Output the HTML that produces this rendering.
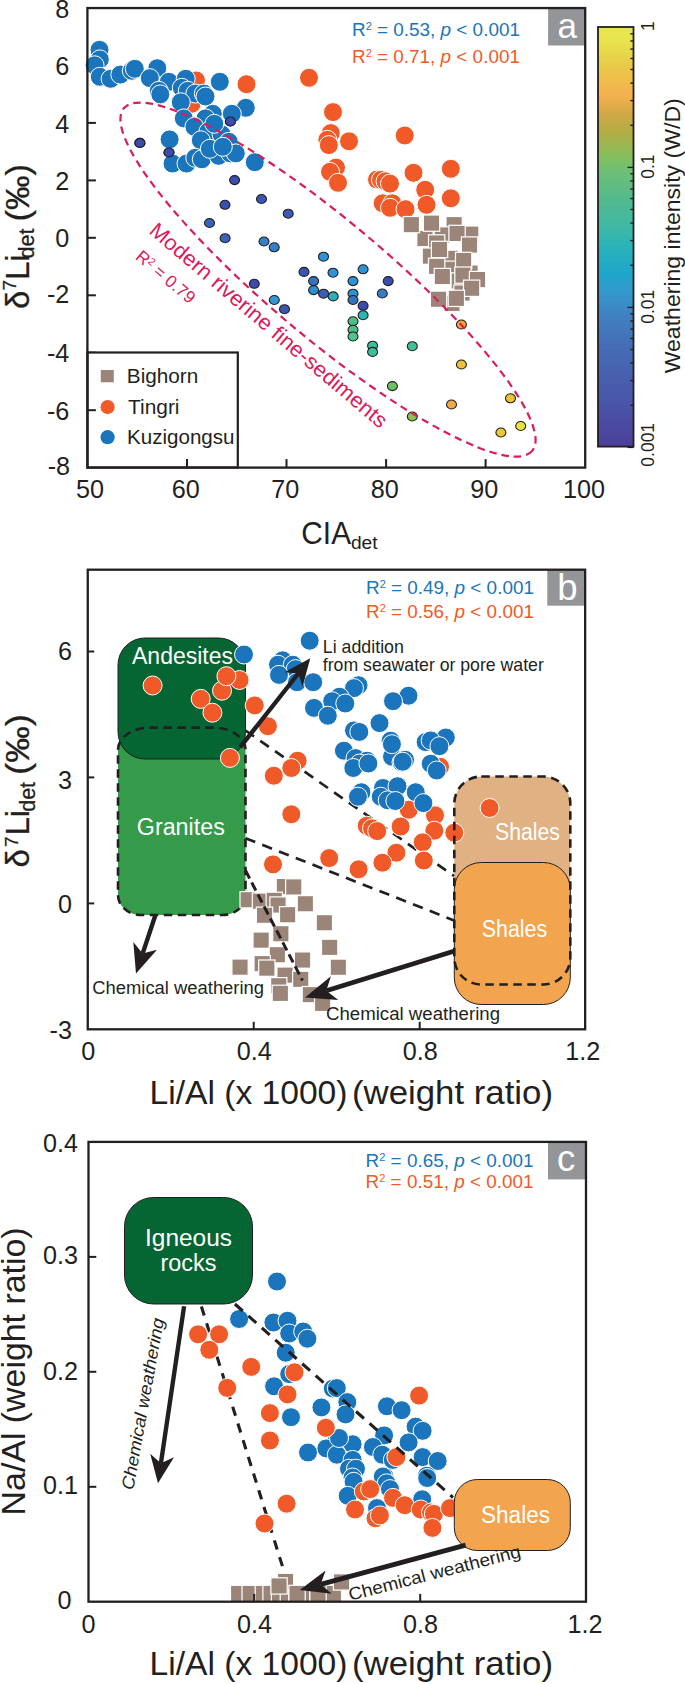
<!DOCTYPE html>
<html><head><meta charset="utf-8"><title>Figure</title>
<style>html,body{margin:0;padding:0;background:#fff}svg{display:block}</style></head>
<body>
<svg width="685" height="1684" viewBox="0 0 685 1684" font-family="Liberation Sans, Arial, sans-serif">
<rect width="685" height="1684" fill="#fff"/>
<defs>
<linearGradient id="cb" x1="0" y1="0" x2="0" y2="1">
<stop offset="0" stop-color="#e9e750"/><stop offset="0.03" stop-color="#e8e44e"/>
<stop offset="0.08" stop-color="#e5cf48"/><stop offset="0.126" stop-color="#f0bd4b"/>
<stop offset="0.165" stop-color="#f5b04f"/><stop offset="0.21" stop-color="#cfa844"/>
<stop offset="0.255" stop-color="#afae45"/><stop offset="0.307" stop-color="#86bf5c"/>
<stop offset="0.342" stop-color="#6fbf74"/><stop offset="0.41" stop-color="#52ba8e"/>
<stop offset="0.48" stop-color="#3fb8a6"/><stop offset="0.52" stop-color="#2bb3b8"/>
<stop offset="0.588" stop-color="#1fa6cb"/><stop offset="0.63" stop-color="#3399cc"/>
<stop offset="0.69" stop-color="#4080c0"/><stop offset="0.76" stop-color="#456db5"/>
<stop offset="0.83" stop-color="#4860ae"/><stop offset="0.90" stop-color="#4a55a8"/>
<stop offset="1" stop-color="#4b3f99"/>
</linearGradient>
<clipPath id="clipc"><rect x="87" y="1141" width="499" height="460.5"/></clipPath>
</defs>
<g id="panelA">
<line x1="87.4" x2="95.9" y1="410.2" y2="410.2" stroke="#231f20" stroke-width="2"/>
<line x1="87.4" x2="95.9" y1="352.7" y2="352.7" stroke="#231f20" stroke-width="2"/>
<line x1="87.4" x2="95.9" y1="295.3" y2="295.3" stroke="#231f20" stroke-width="2"/>
<line x1="87.4" x2="95.9" y1="237.8" y2="237.8" stroke="#231f20" stroke-width="2"/>
<line x1="87.4" x2="95.9" y1="180.4" y2="180.4" stroke="#231f20" stroke-width="2"/>
<line x1="87.4" x2="95.9" y1="122.9" y2="122.9" stroke="#231f20" stroke-width="2"/>
<line x1="87.4" x2="95.9" y1="65.5" y2="65.5" stroke="#231f20" stroke-width="2"/>
<line x1="187.0" x2="187.0" y1="467.6" y2="459.1" stroke="#231f20" stroke-width="2"/>
<line x1="286.5" x2="286.5" y1="467.6" y2="459.1" stroke="#231f20" stroke-width="2"/>
<line x1="386.1" x2="386.1" y1="467.6" y2="459.1" stroke="#231f20" stroke-width="2"/>
<line x1="485.6" x2="485.6" y1="467.6" y2="459.1" stroke="#231f20" stroke-width="2"/>
<ellipse cx="139.9" cy="142.9" rx="5" ry="4.5" fill="#3b4cae" stroke="#231f20" stroke-width="1.1"/>
<ellipse cx="169.0" cy="152.5" rx="5" ry="4.5" fill="#3b4cae" stroke="#231f20" stroke-width="1.1"/>
<ellipse cx="230.4" cy="121.5" rx="5" ry="4.5" fill="#3b4cae" stroke="#231f20" stroke-width="1.1"/>
<ellipse cx="234.6" cy="180.1" rx="5" ry="4.5" fill="#3b4cae" stroke="#231f20" stroke-width="1.1"/>
<ellipse cx="225.0" cy="204.8" rx="5" ry="4.5" fill="#3a50b0" stroke="#231f20" stroke-width="1.1"/>
<ellipse cx="261.5" cy="199.0" rx="5" ry="4.5" fill="#3a55b2" stroke="#231f20" stroke-width="1.1"/>
<ellipse cx="288.2" cy="213.7" rx="5" ry="4.5" fill="#3a5ab6" stroke="#231f20" stroke-width="1.1"/>
<ellipse cx="209.5" cy="223.0" rx="5" ry="4.5" fill="#3a62ba" stroke="#231f20" stroke-width="1.1"/>
<ellipse cx="225.1" cy="238.2" rx="5" ry="4.5" fill="#3a62ba" stroke="#231f20" stroke-width="1.1"/>
<ellipse cx="264.0" cy="241.5" rx="5" ry="4.5" fill="#3480c8" stroke="#231f20" stroke-width="1.1"/>
<ellipse cx="274.2" cy="247.3" rx="5" ry="4.5" fill="#3480c8" stroke="#231f20" stroke-width="1.1"/>
<ellipse cx="254.3" cy="283.8" rx="5" ry="4.5" fill="#3b4cae" stroke="#231f20" stroke-width="1.1"/>
<ellipse cx="274.3" cy="300.0" rx="5" ry="4.5" fill="#2f97d6" stroke="#231f20" stroke-width="1.1"/>
<ellipse cx="284.5" cy="309.2" rx="5" ry="4.5" fill="#3a55b2" stroke="#231f20" stroke-width="1.1"/>
<ellipse cx="323.5" cy="256.7" rx="5" ry="4.5" fill="#2a94d6" stroke="#231f20" stroke-width="1.1"/>
<ellipse cx="304.0" cy="271.9" rx="5" ry="4.5" fill="#3a57b0" stroke="#231f20" stroke-width="1.1"/>
<ellipse cx="333.0" cy="272.7" rx="5" ry="4.5" fill="#2a94d6" stroke="#231f20" stroke-width="1.1"/>
<ellipse cx="363.1" cy="269.3" rx="5" ry="4.5" fill="#2a94d6" stroke="#231f20" stroke-width="1.1"/>
<ellipse cx="313.6" cy="281.1" rx="5" ry="4.5" fill="#3374c0" stroke="#231f20" stroke-width="1.1"/>
<ellipse cx="353.0" cy="281.1" rx="5" ry="4.5" fill="#2a94d6" stroke="#231f20" stroke-width="1.1"/>
<ellipse cx="388.2" cy="281.1" rx="5" ry="4.5" fill="#3a4cae" stroke="#231f20" stroke-width="1.1"/>
<ellipse cx="313.6" cy="290.1" rx="5" ry="4.5" fill="#2a90d4" stroke="#231f20" stroke-width="1.1"/>
<ellipse cx="323.6" cy="293.7" rx="5" ry="4.5" fill="#3a5db8" stroke="#231f20" stroke-width="1.1"/>
<ellipse cx="333.2" cy="296.4" rx="5" ry="4.5" fill="#2bb0b8" stroke="#231f20" stroke-width="1.1"/>
<ellipse cx="353.0" cy="293.7" rx="5" ry="4.5" fill="#2a94d6" stroke="#231f20" stroke-width="1.1"/>
<ellipse cx="353.0" cy="300.0" rx="5" ry="4.5" fill="#3374c0" stroke="#231f20" stroke-width="1.1"/>
<ellipse cx="382.3" cy="293.5" rx="5" ry="4.5" fill="#3380c8" stroke="#231f20" stroke-width="1.1"/>
<ellipse cx="363.1" cy="305.8" rx="5" ry="4.5" fill="#3a4cae" stroke="#231f20" stroke-width="1.1"/>
<ellipse cx="363.1" cy="315.2" rx="5" ry="4.5" fill="#2bb5b0" stroke="#231f20" stroke-width="1.1"/>
<ellipse cx="353.0" cy="321.3" rx="5" ry="4.5" fill="#4dbd8a" stroke="#231f20" stroke-width="1.1"/>
<ellipse cx="353.0" cy="329.8" rx="5" ry="4.5" fill="#4dbd8a" stroke="#231f20" stroke-width="1.1"/>
<ellipse cx="353.0" cy="336.5" rx="5" ry="4.5" fill="#4ec591" stroke="#231f20" stroke-width="1.1"/>
<ellipse cx="372.6" cy="345.7" rx="5" ry="4.5" fill="#3dbe9d" stroke="#231f20" stroke-width="1.1"/>
<ellipse cx="372.6" cy="351.9" rx="5" ry="4.5" fill="#3dbe9d" stroke="#231f20" stroke-width="1.1"/>
<ellipse cx="412.3" cy="346.2" rx="5" ry="4.5" fill="#3fc097" stroke="#231f20" stroke-width="1.1"/>
<ellipse cx="392.4" cy="386.1" rx="5" ry="4.5" fill="#6dc066" stroke="#231f20" stroke-width="1.1"/>
<ellipse cx="412.3" cy="416.5" rx="5" ry="4.5" fill="#8bc24d" stroke="#231f20" stroke-width="1.1"/>
<ellipse cx="461.4" cy="324.5" rx="5" ry="4.5" fill="#f2a531" stroke="#231f20" stroke-width="1.1"/>
<ellipse cx="461.4" cy="364.5" rx="5" ry="4.5" fill="#f0c136" stroke="#231f20" stroke-width="1.1"/>
<ellipse cx="451.5" cy="404.5" rx="5" ry="4.5" fill="#f3a845" stroke="#231f20" stroke-width="1.1"/>
<ellipse cx="510.5" cy="398.3" rx="5" ry="4.5" fill="#e9c534" stroke="#231f20" stroke-width="1.1"/>
<ellipse cx="520.7" cy="426.0" rx="5" ry="4.5" fill="#e8e43c" stroke="#231f20" stroke-width="1.1"/>
<ellipse cx="500.9" cy="432.5" rx="5" ry="4.5" fill="#e8c834" stroke="#231f20" stroke-width="1.1"/>
<circle cx="196.0" cy="80.4" r="9.5" fill="#f05a28" stroke="#fff" stroke-width="1"/>
<circle cx="246.5" cy="84.2" r="9.5" fill="#f05a28" stroke="#fff" stroke-width="1"/>
<circle cx="191.6" cy="103.8" r="9.5" fill="#f05a28" stroke="#fff" stroke-width="1"/>
<circle cx="309.0" cy="77.8" r="9.5" fill="#f05a28" stroke="#fff" stroke-width="1"/>
<circle cx="333.0" cy="112.1" r="9.5" fill="#f05a28" stroke="#fff" stroke-width="1"/>
<circle cx="330.8" cy="133.1" r="9.5" fill="#f05a28" stroke="#fff" stroke-width="1"/>
<circle cx="327.3" cy="139.8" r="9.5" fill="#f05a28" stroke="#fff" stroke-width="1"/>
<circle cx="328.8" cy="145.1" r="9.5" fill="#f05a28" stroke="#fff" stroke-width="1"/>
<circle cx="349.0" cy="141.3" r="9.5" fill="#f05a28" stroke="#fff" stroke-width="1"/>
<circle cx="336.0" cy="167.6" r="9.5" fill="#f05a28" stroke="#fff" stroke-width="1"/>
<circle cx="330.0" cy="171.8" r="9.5" fill="#f05a28" stroke="#fff" stroke-width="1"/>
<circle cx="338.0" cy="182.8" r="9.5" fill="#f05a28" stroke="#fff" stroke-width="1"/>
<circle cx="404.7" cy="135.5" r="9.5" fill="#f05a28" stroke="#fff" stroke-width="1"/>
<circle cx="413.5" cy="172.8" r="9.5" fill="#f05a28" stroke="#fff" stroke-width="1"/>
<circle cx="450.8" cy="168.8" r="9.5" fill="#f05a28" stroke="#fff" stroke-width="1"/>
<circle cx="377.0" cy="179.6" r="9.5" fill="#f05a28" stroke="#fff" stroke-width="1"/>
<circle cx="381.0" cy="179.8" r="9.5" fill="#f05a28" stroke="#fff" stroke-width="1"/>
<circle cx="385.5" cy="181.3" r="9.5" fill="#f05a28" stroke="#fff" stroke-width="1"/>
<circle cx="390.0" cy="183.6" r="9.5" fill="#f05a28" stroke="#fff" stroke-width="1"/>
<circle cx="425.2" cy="189.8" r="9.5" fill="#f05a28" stroke="#fff" stroke-width="1"/>
<circle cx="450.8" cy="198.3" r="9.5" fill="#f05a28" stroke="#fff" stroke-width="1"/>
<circle cx="426.5" cy="204.8" r="9.5" fill="#f05a28" stroke="#fff" stroke-width="1"/>
<circle cx="382.7" cy="203.3" r="9.5" fill="#f05a28" stroke="#fff" stroke-width="1"/>
<circle cx="392.3" cy="203.3" r="9.5" fill="#f05a28" stroke="#fff" stroke-width="1"/>
<circle cx="390.0" cy="207.8" r="9.5" fill="#f05a28" stroke="#fff" stroke-width="1"/>
<circle cx="405.5" cy="209.2" r="9.5" fill="#f05a28" stroke="#fff" stroke-width="1"/>
<rect x="446.0" y="216.5" width="16.3" height="16.3" fill="#9b8579" stroke="#fff" stroke-width="1.2"/>
<rect x="462.6" y="226.0" width="16.3" height="16.3" fill="#9b8579" stroke="#fff" stroke-width="1.2"/>
<rect x="416.8" y="230.4" width="16.3" height="16.3" fill="#9b8579" stroke="#fff" stroke-width="1.2"/>
<rect x="434.2" y="226.8" width="16.3" height="16.3" fill="#9b8579" stroke="#fff" stroke-width="1.2"/>
<rect x="428.5" y="234.8" width="16.3" height="16.3" fill="#9b8579" stroke="#fff" stroke-width="1.2"/>
<rect x="422.2" y="248.0" width="16.3" height="16.3" fill="#9b8579" stroke="#fff" stroke-width="1.2"/>
<rect x="442.4" y="250.2" width="16.3" height="16.3" fill="#9b8579" stroke="#fff" stroke-width="1.2"/>
<rect x="440.2" y="261.1" width="16.3" height="16.3" fill="#9b8579" stroke="#fff" stroke-width="1.2"/>
<rect x="451.1" y="272.8" width="16.3" height="16.3" fill="#9b8579" stroke="#fff" stroke-width="1.2"/>
<rect x="461.9" y="264.9" width="16.3" height="16.3" fill="#9b8579" stroke="#fff" stroke-width="1.2"/>
<rect x="443.8" y="295.4" width="16.3" height="16.3" fill="#9b8579" stroke="#fff" stroke-width="1.2"/>
<rect x="453.9" y="284.9" width="16.3" height="16.3" fill="#9b8579" stroke="#fff" stroke-width="1.2"/>
<rect x="403.2" y="216.5" width="16.3" height="16.3" fill="#9b8579" stroke="#fff" stroke-width="1.2"/>
<rect x="423.4" y="215.0" width="16.3" height="16.3" fill="#9b8579" stroke="#fff" stroke-width="1.2"/>
<rect x="448.9" y="225.3" width="16.3" height="16.3" fill="#9b8579" stroke="#fff" stroke-width="1.2"/>
<rect x="461.4" y="236.9" width="16.3" height="16.3" fill="#9b8579" stroke="#fff" stroke-width="1.2"/>
<rect x="431.4" y="241.3" width="16.3" height="16.3" fill="#9b8579" stroke="#fff" stroke-width="1.2"/>
<rect x="455.5" y="252.3" width="16.3" height="16.3" fill="#9b8579" stroke="#fff" stroke-width="1.2"/>
<rect x="428.5" y="258.2" width="16.3" height="16.3" fill="#9b8579" stroke="#fff" stroke-width="1.2"/>
<rect x="434.2" y="268.4" width="16.3" height="16.3" fill="#9b8579" stroke="#fff" stroke-width="1.2"/>
<rect x="454.8" y="267.0" width="16.3" height="16.3" fill="#9b8579" stroke="#fff" stroke-width="1.2"/>
<rect x="469.4" y="271.4" width="16.3" height="16.3" fill="#9b8579" stroke="#fff" stroke-width="1.2"/>
<rect x="463.5" y="280.1" width="16.3" height="16.3" fill="#9b8579" stroke="#fff" stroke-width="1.2"/>
<rect x="430.4" y="291.1" width="16.3" height="16.3" fill="#9b8579" stroke="#fff" stroke-width="1.2"/>
<rect x="448.2" y="290.2" width="16.3" height="16.3" fill="#9b8579" stroke="#fff" stroke-width="1.2"/>
<circle cx="99.5" cy="49.8" r="9.5" fill="#1b75bc" stroke="#fff" stroke-width="1"/>
<circle cx="99.8" cy="59.4" r="9.5" fill="#1b75bc" stroke="#fff" stroke-width="1"/>
<circle cx="94.6" cy="65.3" r="9.5" fill="#1b75bc" stroke="#fff" stroke-width="1"/>
<circle cx="99.8" cy="76.8" r="9.5" fill="#1b75bc" stroke="#fff" stroke-width="1"/>
<circle cx="110.6" cy="78.8" r="9.5" fill="#1b75bc" stroke="#fff" stroke-width="1"/>
<circle cx="120.3" cy="74.6" r="9.5" fill="#1b75bc" stroke="#fff" stroke-width="1"/>
<circle cx="131.8" cy="70.8" r="9.5" fill="#1b75bc" stroke="#fff" stroke-width="1"/>
<circle cx="134.8" cy="68.8" r="9.5" fill="#1b75bc" stroke="#fff" stroke-width="1"/>
<circle cx="157.3" cy="68.2" r="9.5" fill="#1b75bc" stroke="#fff" stroke-width="1"/>
<circle cx="149.8" cy="78.1" r="9.5" fill="#1b75bc" stroke="#fff" stroke-width="1"/>
<circle cx="168.8" cy="81.8" r="9.5" fill="#1b75bc" stroke="#fff" stroke-width="1"/>
<circle cx="158.8" cy="90.8" r="9.5" fill="#1b75bc" stroke="#fff" stroke-width="1"/>
<circle cx="160.3" cy="94.4" r="9.5" fill="#1b75bc" stroke="#fff" stroke-width="1"/>
<circle cx="185.7" cy="78.8" r="9.5" fill="#1b75bc" stroke="#fff" stroke-width="1"/>
<circle cx="181.8" cy="87.8" r="9.5" fill="#1b75bc" stroke="#fff" stroke-width="1"/>
<circle cx="187.8" cy="90.8" r="9.5" fill="#1b75bc" stroke="#fff" stroke-width="1"/>
<circle cx="195.3" cy="93.6" r="9.5" fill="#1b75bc" stroke="#fff" stroke-width="1"/>
<circle cx="203.8" cy="93.6" r="9.5" fill="#1b75bc" stroke="#fff" stroke-width="1"/>
<circle cx="205.5" cy="96.5" r="9.5" fill="#1b75bc" stroke="#fff" stroke-width="1"/>
<circle cx="180.8" cy="102.3" r="9.5" fill="#1b75bc" stroke="#fff" stroke-width="1"/>
<circle cx="219.8" cy="81.8" r="9.5" fill="#1b75bc" stroke="#fff" stroke-width="1"/>
<circle cx="245.8" cy="107.8" r="9.5" fill="#1b75bc" stroke="#fff" stroke-width="1"/>
<circle cx="231.8" cy="113.8" r="9.5" fill="#1b75bc" stroke="#fff" stroke-width="1"/>
<circle cx="212.8" cy="113.8" r="9.5" fill="#1b75bc" stroke="#fff" stroke-width="1"/>
<circle cx="205.5" cy="118.4" r="9.5" fill="#1b75bc" stroke="#fff" stroke-width="1"/>
<circle cx="183.8" cy="118.4" r="9.5" fill="#1b75bc" stroke="#fff" stroke-width="1"/>
<circle cx="194.4" cy="126.8" r="9.5" fill="#1b75bc" stroke="#fff" stroke-width="1"/>
<circle cx="208.4" cy="131.5" r="9.5" fill="#1b75bc" stroke="#fff" stroke-width="1"/>
<circle cx="221.6" cy="134.4" r="9.5" fill="#1b75bc" stroke="#fff" stroke-width="1"/>
<circle cx="228.8" cy="141.8" r="9.5" fill="#1b75bc" stroke="#fff" stroke-width="1"/>
<circle cx="200.8" cy="140.3" r="9.5" fill="#1b75bc" stroke="#fff" stroke-width="1"/>
<circle cx="214.3" cy="123.8" r="9.5" fill="#1b75bc" stroke="#fff" stroke-width="1"/>
<circle cx="169.6" cy="139.4" r="9.5" fill="#1b75bc" stroke="#fff" stroke-width="1"/>
<circle cx="172.5" cy="163.6" r="9.5" fill="#1b75bc" stroke="#fff" stroke-width="1"/>
<circle cx="186.5" cy="163.6" r="9.5" fill="#1b75bc" stroke="#fff" stroke-width="1"/>
<circle cx="195.3" cy="157.8" r="9.5" fill="#1b75bc" stroke="#fff" stroke-width="1"/>
<circle cx="201.8" cy="159.3" r="9.5" fill="#1b75bc" stroke="#fff" stroke-width="1"/>
<circle cx="218.6" cy="155.8" r="9.5" fill="#1b75bc" stroke="#fff" stroke-width="1"/>
<circle cx="230.3" cy="153.4" r="9.5" fill="#1b75bc" stroke="#fff" stroke-width="1"/>
<circle cx="235.8" cy="153.4" r="9.5" fill="#1b75bc" stroke="#fff" stroke-width="1"/>
<circle cx="254.8" cy="162.2" r="9.5" fill="#1b75bc" stroke="#fff" stroke-width="1"/>
<circle cx="209.8" cy="148.8" r="9.5" fill="#1b75bc" stroke="#fff" stroke-width="1"/>
<circle cx="222.8" cy="146.8" r="9.5" fill="#1b75bc" stroke="#fff" stroke-width="1"/>
<ellipse cx="328" cy="279.6" rx="266.5" ry="58.5" transform="rotate(40 328 279.6)" fill="none" stroke="#d91c5c" stroke-width="2.2" stroke-dasharray="7.5 5"/>
<ellipse cx="139.9" cy="142.9" rx="5" ry="4.5" fill="#3b4cae" stroke="#231f20" stroke-width="1.1"/>
<ellipse cx="169.0" cy="152.5" rx="5" ry="4.5" fill="#3b4cae" stroke="#231f20" stroke-width="1.1"/>
<ellipse cx="230.4" cy="121.5" rx="5" ry="4.5" fill="#3b4cae" stroke="#231f20" stroke-width="1.1"/>
<text transform="translate(148,232.5) rotate(40.3)" font-size="21.5" fill="#d91c5c" textLength="304" lengthAdjust="spacingAndGlyphs">Modern riverine fine-sediments</text>
<text transform="translate(134.6,258.2) rotate(40.3)" font-size="17.3" fill="#d91c5c">R<tspan font-size="10.5" dy="-5">2</tspan><tspan dy="5"> = 0.79</tspan></text>
<text x="352" y="36" font-size="18.9" fill="#1b75bc">R<tspan font-size="11" dy="-6">2</tspan><tspan dy="6"> = 0.53, </tspan><tspan font-style="italic">p</tspan> &lt; 0.001</text>
<text x="352" y="63.1" font-size="18.9" fill="#f05a28">R<tspan font-size="11" dy="-6">2</tspan><tspan dy="6"> = 0.71, </tspan><tspan font-style="italic">p</tspan> &lt; 0.001</text>
<rect x="87.5" y="352.5" width="150.3" height="115" fill="#fff" stroke="#231f20" stroke-width="2.2"/>
<rect x="100.8" y="370" width="13" height="12.3" fill="#9b8579"/>
<circle cx="107.6" cy="407" r="7.1" fill="#f05a28"/><circle cx="107.6" cy="437.2" r="7.1" fill="#1b75bc"/><line x1="87.4" x2="95.9" y1="410.2" y2="410.2" stroke="#231f20" stroke-width="2"/><line x1="187" x2="187" y1="467.6" y2="459.1" stroke="#231f20" stroke-width="2"/>
<text x="126.8" y="382.6" font-size="19.8" fill="#231f20" text-anchor="start" textLength="71.5" lengthAdjust="spacingAndGlyphs" >Bighorn</text>
<text x="128" y="414" font-size="19.8" fill="#231f20" text-anchor="start" textLength="51.5" lengthAdjust="spacingAndGlyphs" >Tingri</text>
<text x="127" y="444.3" font-size="19.8" fill="#231f20" text-anchor="start" textLength="107.5" lengthAdjust="spacingAndGlyphs" >Kuzigongsu</text>
<rect x="548.1" y="8" width="37" height="37.5" fill="#939598"/>
<rect x="87.4" y="8.05" width="497.80000000000007" height="459.55" fill="none" stroke="#231f20" stroke-width="2.3"/>
<text x="70.1" y="474.9" font-size="25.2" fill="#231f20" text-anchor="end" >-8</text>
<text x="69.3" y="419.8" font-size="25.2" fill="#231f20" text-anchor="end" >-6</text>
<text x="69.3" y="362.3" font-size="25.2" fill="#231f20" text-anchor="end" >-4</text>
<text x="69.3" y="302.5" font-size="25.2" fill="#231f20" text-anchor="end" >-2</text>
<text x="69.3" y="247.4" font-size="25.2" fill="#231f20" text-anchor="end" >0</text>
<text x="69.3" y="190.0" font-size="25.2" fill="#231f20" text-anchor="end" >2</text>
<text x="69.3" y="132.5" font-size="25.2" fill="#231f20" text-anchor="end" >4</text>
<text x="69.3" y="75.1" font-size="25.2" fill="#231f20" text-anchor="end" >6</text>
<text x="69.3" y="17.7" font-size="25.2" fill="#231f20" text-anchor="end" >8</text>
<text x="89.9" y="498.3" font-size="25.2" fill="#231f20" text-anchor="middle" >50</text>
<text x="185.7" y="498.3" font-size="25.2" fill="#231f20" text-anchor="middle" >60</text>
<text x="285.2" y="498.3" font-size="25.2" fill="#231f20" text-anchor="middle" >70</text>
<text x="384.8" y="498.3" font-size="25.2" fill="#231f20" text-anchor="middle" >80</text>
<text x="484.3" y="498.3" font-size="25.2" fill="#231f20" text-anchor="middle" >90</text>
<text x="583.9" y="498.3" font-size="25.2" fill="#231f20" text-anchor="middle" >100</text>
<text x="567.3" y="38.4" font-size="35" fill="#fff" text-anchor="middle" >a</text>
<text x="301.3" y="544" font-size="31.5" fill="#231f20" text-anchor="start" textLength="49.8" lengthAdjust="spacingAndGlyphs" >CIA</text>
<text x="350.9" y="548.5" font-size="19.2" fill="#231f20" text-anchor="start" >det</text>
<text transform="translate(28.8,309) rotate(-90)" font-size="33" fill="#231f20" stroke="#231f20" stroke-width="0.3">δ</text><text transform="translate(16,290.5) rotate(-90)" font-size="19" fill="#231f20" stroke="#231f20" stroke-width="0.3">7</text><text transform="translate(28.8,280) rotate(-90)" font-size="33" fill="#231f20" stroke="#231f20" stroke-width="0.3">Li</text><text transform="translate(34.2,258.5) rotate(-90)" font-size="21.5" fill="#231f20" stroke="#231f20" stroke-width="0.3">det</text><text transform="translate(28.8,221.6) rotate(-90)" font-size="33" fill="#231f20" stroke="#231f20" stroke-width="0.3" textLength="57.5" lengthAdjust="spacingAndGlyphs">(‰)</text>
<rect x="598" y="27" width="35.5" height="419.6" fill="url(#cb)" stroke="#231f20" stroke-width="1.8"/>
<line x1="627.5" x2="633.5" y1="167.4" y2="167.4" stroke="#231f20" stroke-width="1.4"/>
<line x1="630.3" x2="633.5" y1="125.3" y2="125.3" stroke="#231f20" stroke-width="1.4"/>
<line x1="630.3" x2="633.5" y1="100.6" y2="100.6" stroke="#231f20" stroke-width="1.4"/>
<line x1="630.3" x2="633.5" y1="83.1" y2="83.1" stroke="#231f20" stroke-width="1.4"/>
<line x1="630.3" x2="633.5" y1="69.5" y2="69.5" stroke="#231f20" stroke-width="1.4"/>
<line x1="630.3" x2="633.5" y1="58.5" y2="58.5" stroke="#231f20" stroke-width="1.4"/>
<line x1="630.3" x2="633.5" y1="49.1" y2="49.1" stroke="#231f20" stroke-width="1.4"/>
<line x1="630.3" x2="633.5" y1="41.0" y2="41.0" stroke="#231f20" stroke-width="1.4"/>
<line x1="630.3" x2="633.5" y1="33.8" y2="33.8" stroke="#231f20" stroke-width="1.4"/>
<line x1="627.5" x2="633.5" y1="307.4" y2="307.4" stroke="#231f20" stroke-width="1.4"/>
<line x1="630.3" x2="633.5" y1="265.3" y2="265.3" stroke="#231f20" stroke-width="1.4"/>
<line x1="630.3" x2="633.5" y1="240.6" y2="240.6" stroke="#231f20" stroke-width="1.4"/>
<line x1="630.3" x2="633.5" y1="223.1" y2="223.1" stroke="#231f20" stroke-width="1.4"/>
<line x1="630.3" x2="633.5" y1="209.5" y2="209.5" stroke="#231f20" stroke-width="1.4"/>
<line x1="630.3" x2="633.5" y1="198.5" y2="198.5" stroke="#231f20" stroke-width="1.4"/>
<line x1="630.3" x2="633.5" y1="189.1" y2="189.1" stroke="#231f20" stroke-width="1.4"/>
<line x1="630.3" x2="633.5" y1="181.0" y2="181.0" stroke="#231f20" stroke-width="1.4"/>
<line x1="630.3" x2="633.5" y1="173.8" y2="173.8" stroke="#231f20" stroke-width="1.4"/>
<line x1="627.5" x2="633.5" y1="447.4" y2="447.4" stroke="#231f20" stroke-width="1.4"/>
<line x1="630.3" x2="633.5" y1="405.3" y2="405.3" stroke="#231f20" stroke-width="1.4"/>
<line x1="630.3" x2="633.5" y1="380.6" y2="380.6" stroke="#231f20" stroke-width="1.4"/>
<line x1="630.3" x2="633.5" y1="363.1" y2="363.1" stroke="#231f20" stroke-width="1.4"/>
<line x1="630.3" x2="633.5" y1="349.5" y2="349.5" stroke="#231f20" stroke-width="1.4"/>
<line x1="630.3" x2="633.5" y1="338.5" y2="338.5" stroke="#231f20" stroke-width="1.4"/>
<line x1="630.3" x2="633.5" y1="329.1" y2="329.1" stroke="#231f20" stroke-width="1.4"/>
<line x1="630.3" x2="633.5" y1="321.0" y2="321.0" stroke="#231f20" stroke-width="1.4"/>
<line x1="630.3" x2="633.5" y1="313.8" y2="313.8" stroke="#231f20" stroke-width="1.4"/>
<text transform="translate(653.8,26.2) rotate(-90)" font-size="17.5" fill="#231f20" text-anchor="middle">1</text>
<text transform="translate(653.8,166.6) rotate(-90)" font-size="17.5" fill="#231f20" text-anchor="middle">0.1</text>
<text transform="translate(653.8,306.8) rotate(-90)" font-size="17.5" fill="#231f20" text-anchor="middle">0.01</text>
<text transform="translate(653.8,444.8) rotate(-90)" font-size="17.5" fill="#231f20" text-anchor="middle">0.001</text>
<text transform="translate(680.2,373.3) rotate(-90)" font-size="21.8" fill="#231f20" textLength="275" lengthAdjust="spacingAndGlyphs">Weathering intensity (W/D)</text>
</g>
<g id="panelB">
<path d="M118 749.6 A32 22 0 0 1 150 727.6 H213.5 A32 22 0 0 1 245.5 749.6 V895 A23 20 0 0 1 222.5 915 H141 A23 20 0 0 1 118 895 Z" fill="#359a4a"/>
<rect x="118" y="638" width="127.5" height="121" rx="27" fill="#066633" stroke="#231f20" stroke-width="1"/>
<path d="M118 749.6 A32 22 0 0 1 150 727.6 H213.5 A32 22 0 0 1 245.5 749.6 V895 A23 20 0 0 1 222.5 915 H141 A23 20 0 0 1 118 895 Z" fill="none" stroke="#231f20" stroke-width="2.6" stroke-dasharray="8.5 5.5"/>
<rect x="454.3" y="776.5" width="116" height="208" rx="27" fill="#e0b283"/>
<rect x="454.3" y="862.5" width="116" height="142" rx="27" fill="#f2a54e" stroke="#231f20" stroke-width="1"/>
<line x1="245.5" y1="730.5" x2="454.1" y2="876" stroke="#231f20" stroke-width="2.7" stroke-dasharray="10.5 7.5"/>
<line x1="245.5" y1="838.2" x2="454.1" y2="920.4" stroke="#231f20" stroke-width="2.7" stroke-dasharray="10.5 7.5"/>
<rect x="276.2" y="878.4" width="16.3" height="16.3" fill="#9b8579" stroke="#fff" stroke-width="1.2"/>
<rect x="285.6" y="878.8" width="16.3" height="16.3" fill="#9b8579" stroke="#fff" stroke-width="1.2"/>
<rect x="240.0" y="891.6" width="16.3" height="16.3" fill="#9b8579" stroke="#fff" stroke-width="1.2"/>
<rect x="252.3" y="893.0" width="16.3" height="16.3" fill="#9b8579" stroke="#fff" stroke-width="1.2"/>
<rect x="266.1" y="892.2" width="16.3" height="16.3" fill="#9b8579" stroke="#fff" stroke-width="1.2"/>
<rect x="269.9" y="896.9" width="16.3" height="16.3" fill="#9b8579" stroke="#fff" stroke-width="1.2"/>
<rect x="297.2" y="895.6" width="16.3" height="16.3" fill="#9b8579" stroke="#fff" stroke-width="1.2"/>
<rect x="256.4" y="907.1" width="16.3" height="16.3" fill="#9b8579" stroke="#fff" stroke-width="1.2"/>
<rect x="279.5" y="906.6" width="16.3" height="16.3" fill="#9b8579" stroke="#fff" stroke-width="1.2"/>
<rect x="253.0" y="932.0" width="16.3" height="16.3" fill="#9b8579" stroke="#fff" stroke-width="1.2"/>
<rect x="272.7" y="925.6" width="16.3" height="16.3" fill="#9b8579" stroke="#fff" stroke-width="1.2"/>
<rect x="269.2" y="946.6" width="16.3" height="16.3" fill="#9b8579" stroke="#fff" stroke-width="1.2"/>
<rect x="294.4" y="951.9" width="16.3" height="16.3" fill="#9b8579" stroke="#fff" stroke-width="1.2"/>
<rect x="231.9" y="959.0" width="16.3" height="16.3" fill="#9b8579" stroke="#fff" stroke-width="1.2"/>
<rect x="254.0" y="955.5" width="16.3" height="16.3" fill="#9b8579" stroke="#fff" stroke-width="1.2"/>
<rect x="258.7" y="960.0" width="16.3" height="16.3" fill="#9b8579" stroke="#fff" stroke-width="1.2"/>
<rect x="276.9" y="967.0" width="16.3" height="16.3" fill="#9b8579" stroke="#fff" stroke-width="1.2"/>
<rect x="292.6" y="971.2" width="16.3" height="16.3" fill="#9b8579" stroke="#fff" stroke-width="1.2"/>
<rect x="270.6" y="977.6" width="16.3" height="16.3" fill="#9b8579" stroke="#fff" stroke-width="1.2"/>
<rect x="272.2" y="985.2" width="16.3" height="16.3" fill="#9b8579" stroke="#fff" stroke-width="1.2"/>
<rect x="316.2" y="914.6" width="16.3" height="16.3" fill="#9b8579" stroke="#fff" stroke-width="1.2"/>
<rect x="321.5" y="939.2" width="16.3" height="16.3" fill="#9b8579" stroke="#fff" stroke-width="1.2"/>
<rect x="330.2" y="959.1" width="16.3" height="16.3" fill="#9b8579" stroke="#fff" stroke-width="1.2"/>
<rect x="302.2" y="986.5" width="16.3" height="16.3" fill="#9b8579" stroke="#fff" stroke-width="1.2"/>
<rect x="314.5" y="995.2" width="16.3" height="16.3" fill="#9b8579" stroke="#fff" stroke-width="1.2"/>
<line x1="245.5" y1="870.5" x2="302.5" y2="980.5" stroke="#231f20" stroke-width="3" stroke-dasharray="9 4.5"/>
<circle cx="152.6" cy="685.5" r="9.5" fill="#f05a28" stroke="#fff" stroke-width="1"/>
<circle cx="200.7" cy="698.9" r="9.5" fill="#f05a28" stroke="#fff" stroke-width="1"/>
<circle cx="212.4" cy="712.7" r="9.5" fill="#f05a28" stroke="#fff" stroke-width="1"/>
<circle cx="239.6" cy="680.0" r="9.5" fill="#f05a28" stroke="#fff" stroke-width="1"/>
<circle cx="222.0" cy="690.7" r="9.5" fill="#f05a28" stroke="#fff" stroke-width="1"/>
<circle cx="226.4" cy="676.2" r="9.5" fill="#f05a28" stroke="#fff" stroke-width="1"/>
<circle cx="254.7" cy="705.4" r="9.5" fill="#f05a28" stroke="#fff" stroke-width="1"/>
<circle cx="267.9" cy="726.2" r="9.5" fill="#f05a28" stroke="#fff" stroke-width="1"/>
<circle cx="229.9" cy="757.9" r="9.5" fill="#f05a28" stroke="#fff" stroke-width="1"/>
<circle cx="297.6" cy="760.7" r="9.5" fill="#f05a28" stroke="#fff" stroke-width="1"/>
<circle cx="291.3" cy="768.0" r="9.5" fill="#f05a28" stroke="#fff" stroke-width="1"/>
<circle cx="273.8" cy="775.7" r="9.5" fill="#f05a28" stroke="#fff" stroke-width="1"/>
<circle cx="291.3" cy="814.3" r="9.5" fill="#f05a28" stroke="#fff" stroke-width="1"/>
<circle cx="366.7" cy="825.7" r="9.5" fill="#f05a28" stroke="#fff" stroke-width="1"/>
<circle cx="372.0" cy="828.3" r="9.5" fill="#f05a28" stroke="#fff" stroke-width="1"/>
<circle cx="377.2" cy="831.1" r="9.5" fill="#f05a28" stroke="#fff" stroke-width="1"/>
<circle cx="408.7" cy="809.7" r="9.5" fill="#f05a28" stroke="#fff" stroke-width="1"/>
<circle cx="400.6" cy="826.5" r="9.5" fill="#f05a28" stroke="#fff" stroke-width="1"/>
<circle cx="435.0" cy="815.3" r="9.5" fill="#f05a28" stroke="#fff" stroke-width="1"/>
<circle cx="434.3" cy="830.7" r="9.5" fill="#f05a28" stroke="#fff" stroke-width="1"/>
<circle cx="454.3" cy="832.7" r="9.5" fill="#f05a28" stroke="#fff" stroke-width="1"/>
<circle cx="422.7" cy="842.3" r="9.5" fill="#f05a28" stroke="#fff" stroke-width="1"/>
<circle cx="396.4" cy="852.7" r="9.5" fill="#f05a28" stroke="#fff" stroke-width="1"/>
<circle cx="423.8" cy="860.5" r="9.5" fill="#f05a28" stroke="#fff" stroke-width="1"/>
<circle cx="382.4" cy="862.7" r="9.5" fill="#f05a28" stroke="#fff" stroke-width="1"/>
<circle cx="358.6" cy="869.3" r="9.5" fill="#f05a28" stroke="#fff" stroke-width="1"/>
<circle cx="329.2" cy="858.1" r="9.5" fill="#f05a28" stroke="#fff" stroke-width="1"/>
<circle cx="273.0" cy="864.4" r="9.5" fill="#f05a28" stroke="#fff" stroke-width="1"/>
<circle cx="440.0" cy="766.7" r="9.5" fill="#f05a28" stroke="#fff" stroke-width="1"/>
<circle cx="489.6" cy="808.0" r="9.5" fill="#f05a28" stroke="#fff" stroke-width="1"/>
<circle cx="309.7" cy="640.7" r="9.5" fill="#1b75bc" stroke="#fff" stroke-width="1"/>
<circle cx="244.0" cy="654.5" r="9.5" fill="#1b75bc" stroke="#fff" stroke-width="1"/>
<circle cx="282.6" cy="660.3" r="9.5" fill="#1b75bc" stroke="#fff" stroke-width="1"/>
<circle cx="278.0" cy="664.7" r="9.5" fill="#1b75bc" stroke="#fff" stroke-width="1"/>
<circle cx="292.8" cy="664.7" r="9.5" fill="#1b75bc" stroke="#fff" stroke-width="1"/>
<circle cx="295.7" cy="669.1" r="9.5" fill="#1b75bc" stroke="#fff" stroke-width="1"/>
<circle cx="279.0" cy="674.9" r="9.5" fill="#1b75bc" stroke="#fff" stroke-width="1"/>
<circle cx="297.0" cy="682.2" r="9.5" fill="#1b75bc" stroke="#fff" stroke-width="1"/>
<circle cx="313.2" cy="682.2" r="9.5" fill="#1b75bc" stroke="#fff" stroke-width="1"/>
<circle cx="358.5" cy="685.2" r="9.5" fill="#1b75bc" stroke="#fff" stroke-width="1"/>
<circle cx="354.0" cy="688.1" r="9.5" fill="#1b75bc" stroke="#fff" stroke-width="1"/>
<circle cx="339.5" cy="696.7" r="9.5" fill="#1b75bc" stroke="#fff" stroke-width="1"/>
<circle cx="332.2" cy="701.2" r="9.5" fill="#1b75bc" stroke="#fff" stroke-width="1"/>
<circle cx="345.3" cy="703.5" r="9.5" fill="#1b75bc" stroke="#fff" stroke-width="1"/>
<circle cx="314.0" cy="707.9" r="9.5" fill="#1b75bc" stroke="#fff" stroke-width="1"/>
<circle cx="327.8" cy="715.7" r="9.5" fill="#1b75bc" stroke="#fff" stroke-width="1"/>
<circle cx="408.5" cy="695.7" r="9.5" fill="#1b75bc" stroke="#fff" stroke-width="1"/>
<circle cx="393.0" cy="701.2" r="9.5" fill="#1b75bc" stroke="#fff" stroke-width="1"/>
<circle cx="379.5" cy="723.1" r="9.5" fill="#1b75bc" stroke="#fff" stroke-width="1"/>
<circle cx="354.0" cy="730.4" r="9.5" fill="#1b75bc" stroke="#fff" stroke-width="1"/>
<circle cx="359.3" cy="731.9" r="9.5" fill="#1b75bc" stroke="#fff" stroke-width="1"/>
<circle cx="390.6" cy="740.7" r="9.5" fill="#1b75bc" stroke="#fff" stroke-width="1"/>
<circle cx="343.9" cy="750.7" r="9.5" fill="#1b75bc" stroke="#fff" stroke-width="1"/>
<circle cx="355.5" cy="758.1" r="9.5" fill="#1b75bc" stroke="#fff" stroke-width="1"/>
<circle cx="392.0" cy="756.7" r="9.5" fill="#1b75bc" stroke="#fff" stroke-width="1"/>
<circle cx="405.0" cy="759.7" r="9.5" fill="#1b75bc" stroke="#fff" stroke-width="1"/>
<circle cx="425.6" cy="742.1" r="9.5" fill="#1b75bc" stroke="#fff" stroke-width="1"/>
<circle cx="367.0" cy="760.7" r="9.5" fill="#1b75bc" stroke="#fff" stroke-width="1"/>
<circle cx="445.8" cy="737.5" r="9.5" fill="#1b75bc" stroke="#fff" stroke-width="1"/>
<circle cx="430.7" cy="740.4" r="9.5" fill="#1b75bc" stroke="#fff" stroke-width="1"/>
<circle cx="439.4" cy="746.2" r="9.5" fill="#1b75bc" stroke="#fff" stroke-width="1"/>
<circle cx="401.5" cy="762.3" r="9.5" fill="#1b75bc" stroke="#fff" stroke-width="1"/>
<circle cx="430.7" cy="763.7" r="9.5" fill="#1b75bc" stroke="#fff" stroke-width="1"/>
<circle cx="359.6" cy="763.5" r="9.5" fill="#1b75bc" stroke="#fff" stroke-width="1"/>
<circle cx="353.3" cy="768.0" r="9.5" fill="#1b75bc" stroke="#fff" stroke-width="1"/>
<circle cx="368.4" cy="763.5" r="9.5" fill="#1b75bc" stroke="#fff" stroke-width="1"/>
<circle cx="391.9" cy="744.2" r="9.5" fill="#1b75bc" stroke="#fff" stroke-width="1"/>
<circle cx="402.7" cy="761.7" r="9.5" fill="#1b75bc" stroke="#fff" stroke-width="1"/>
<circle cx="436.7" cy="770.5" r="9.5" fill="#1b75bc" stroke="#fff" stroke-width="1"/>
<circle cx="361.4" cy="792.2" r="9.5" fill="#1b75bc" stroke="#fff" stroke-width="1"/>
<circle cx="357.9" cy="796.7" r="9.5" fill="#1b75bc" stroke="#fff" stroke-width="1"/>
<circle cx="383.0" cy="788.0" r="9.5" fill="#1b75bc" stroke="#fff" stroke-width="1"/>
<circle cx="397.5" cy="786.2" r="9.5" fill="#1b75bc" stroke="#fff" stroke-width="1"/>
<circle cx="380.7" cy="796.7" r="9.5" fill="#1b75bc" stroke="#fff" stroke-width="1"/>
<circle cx="387.7" cy="800.3" r="9.5" fill="#1b75bc" stroke="#fff" stroke-width="1"/>
<circle cx="395.4" cy="801.0" r="9.5" fill="#1b75bc" stroke="#fff" stroke-width="1"/>
<circle cx="415.7" cy="792.2" r="9.5" fill="#1b75bc" stroke="#fff" stroke-width="1"/>
<circle cx="423.4" cy="803.1" r="9.5" fill="#1b75bc" stroke="#fff" stroke-width="1"/>
<rect x="454.3" y="776.5" width="116" height="208" rx="27" fill="none" stroke="#231f20" stroke-width="2.6" stroke-dasharray="8.5 5.5"/>
<line x1="240.2" y1="747.2" x2="298.3" y2="673.5" stroke="#231f20" stroke-width="4.4"/><path d="M310.3 658.2 L302.6 686.5 L298.3 673.5 L284.6 672.3Z" fill="#231f20"/>
<line x1="155.3" y1="915.5" x2="142.6" y2="953.6" stroke="#231f20" stroke-width="4.4"/><path d="M136.0 973.4 L133.3 941.9 L142.6 953.6 L157.0 949.8Z" fill="#231f20"/>
<line x1="454.5" y1="951.0" x2="326.3" y2="990.8" stroke="#231f20" stroke-width="4.7"/><path d="M305.0 997.4 L330.9 976.3 L326.3 990.8 L338.3 1000.1Z" fill="#231f20"/>
<text x="132" y="664" font-size="23" fill="#fff" text-anchor="start" textLength="101" lengthAdjust="spacingAndGlyphs" >Andesites</text>
<text x="136.8" y="835" font-size="23" fill="#fff" text-anchor="start" textLength="88" lengthAdjust="spacingAndGlyphs" >Granites</text>
<text x="495" y="840" font-size="23" fill="#fff" text-anchor="start" textLength="65" lengthAdjust="spacingAndGlyphs" >Shales</text>
<text x="481.7" y="936.6" font-size="23" fill="#fff" text-anchor="start" textLength="65.5" lengthAdjust="spacingAndGlyphs" >Shales</text>
<text x="322.8" y="652.5" font-size="17.8" fill="#231f20" text-anchor="start" >Li addition</text>
<text x="322.8" y="671.2" font-size="17.8" fill="#231f20" text-anchor="start" textLength="221" lengthAdjust="spacingAndGlyphs" >from seawater or pore water</text>
<text x="92.3" y="993.7" font-size="17.5" fill="#231f20" text-anchor="start" textLength="171.7" lengthAdjust="spacingAndGlyphs" >Chemical weathering</text>
<text x="326" y="1019.6" font-size="17.5" fill="#231f20" text-anchor="start" textLength="174" lengthAdjust="spacingAndGlyphs" >Chemical weathering</text>
<text x="366" y="593.9" font-size="18.9" fill="#1b75bc">R<tspan font-size="11" dy="-6">2</tspan><tspan dy="6"> = 0.49, </tspan><tspan font-style="italic">p</tspan> &lt; 0.001</text>
<text x="366" y="618.1" font-size="18.9" fill="#f05a28">R<tspan font-size="11" dy="-6">2</tspan><tspan dy="6"> = 0.56, </tspan><tspan font-style="italic">p</tspan> &lt; 0.001</text>
<rect x="547.3" y="569.7" width="38" height="36" fill="#939598"/>
<rect x="87.75" y="569.7" width="497.4" height="459.5999999999999" fill="none" stroke="#231f20" stroke-width="2.3"/>
<line x1="87.75" x2="94.25" y1="903.4" y2="903.4" stroke="#231f20" stroke-width="2"/>
<text x="72" y="913.1" font-size="25.2" fill="#231f20" text-anchor="end" >0</text>
<line x1="87.75" x2="94.25" y1="777.4" y2="777.4" stroke="#231f20" stroke-width="2"/>
<text x="72" y="788.6" font-size="25.2" fill="#231f20" text-anchor="end" >3</text>
<line x1="87.75" x2="94.25" y1="651.5" y2="651.5" stroke="#231f20" stroke-width="2"/>
<text x="72" y="659.7" font-size="25.2" fill="#231f20" text-anchor="end" >6</text>
<text x="72" y="1039.3" font-size="25.2" fill="#231f20" text-anchor="end" >-3</text>
<line x1="253.7" x2="253.7" y1="1029.3" y2="1021.8" stroke="#231f20" stroke-width="2"/>
<line x1="419.7" x2="419.7" y1="1029.3" y2="1021.8" stroke="#231f20" stroke-width="2"/>
<text x="88.3" y="1060" font-size="25.2" fill="#231f20" text-anchor="middle" >0</text>
<text x="254.3" y="1060" font-size="25.2" fill="#231f20" text-anchor="middle" >0.4</text>
<text x="420.3" y="1060" font-size="25.2" fill="#231f20" text-anchor="middle" >0.8</text>
<text x="582.8" y="1060" font-size="25.2" fill="#231f20" text-anchor="middle" >1.2</text>
<text x="567.5" y="600.4" font-size="36.5" fill="#fff" text-anchor="middle" >b</text>
<text x="149.5" y="1103.5" font-size="32.3" fill="#231f20" text-anchor="start" textLength="198" lengthAdjust="spacingAndGlyphs" >Li/Al (x 1000)</text>
<text x="352" y="1103.5" font-size="32.3" fill="#231f20" text-anchor="start" textLength="201" lengthAdjust="spacingAndGlyphs" >(weight ratio)</text>
<text transform="translate(28.8,867.5) rotate(-90)" font-size="33" fill="#231f20" stroke="#231f20" stroke-width="0.3">δ</text><text transform="translate(17.6,847) rotate(-90)" font-size="19" fill="#231f20" stroke="#231f20" stroke-width="0.3">7</text><text transform="translate(28.8,835.5) rotate(-90)" font-size="33" fill="#231f20" stroke="#231f20" stroke-width="0.3">Li</text><text transform="translate(34.7,811.8) rotate(-90)" font-size="21.5" fill="#231f20" stroke="#231f20" stroke-width="0.3">det</text><text transform="translate(28.8,775) rotate(-90)" font-size="33" fill="#231f20" stroke="#231f20" stroke-width="0.3" textLength="61" lengthAdjust="spacingAndGlyphs">(‰)</text>
</g>
<g id="panelC">
<rect x="124.5" y="1197.5" width="128" height="106.5" rx="29" fill="#066633" stroke="#231f20" stroke-width="1"/>
<line x1="201.4" y1="1306.5" x2="283.6" y2="1570" stroke="#231f20" stroke-width="3.1" stroke-dasharray="9.5 8"/>
<g clip-path="url(#clipc)">
<rect x="230.5" y="1585.3" width="16.3" height="16.3" fill="#9b8579" stroke="#fff" stroke-width="1.2"/>
<rect x="242.0" y="1585.3" width="16.3" height="16.3" fill="#9b8579" stroke="#fff" stroke-width="1.2"/>
<rect x="255.2" y="1585.3" width="16.3" height="16.3" fill="#9b8579" stroke="#fff" stroke-width="1.2"/>
<rect x="262.9" y="1585.3" width="16.3" height="16.3" fill="#9b8579" stroke="#fff" stroke-width="1.2"/>
<rect x="271.4" y="1585.3" width="16.3" height="16.3" fill="#9b8579" stroke="#fff" stroke-width="1.2"/>
<rect x="280.2" y="1585.3" width="16.3" height="16.3" fill="#9b8579" stroke="#fff" stroke-width="1.2"/>
<rect x="288.9" y="1585.3" width="16.3" height="16.3" fill="#9b8579" stroke="#fff" stroke-width="1.2"/>
<rect x="297.7" y="1585.3" width="16.3" height="16.3" fill="#9b8579" stroke="#fff" stroke-width="1.2"/>
<rect x="300.6" y="1585.3" width="16.3" height="16.3" fill="#9b8579" stroke="#fff" stroke-width="1.2"/>
<rect x="309.9" y="1585.3" width="16.3" height="16.3" fill="#9b8579" stroke="#fff" stroke-width="1.2"/>
<rect x="318.1" y="1585.3" width="16.3" height="16.3" fill="#9b8579" stroke="#fff" stroke-width="1.2"/>
<rect x="321.0" y="1585.3" width="16.3" height="16.3" fill="#9b8579" stroke="#fff" stroke-width="1.2"/>
<rect x="325.2" y="1585.3" width="16.3" height="16.3" fill="#9b8579" stroke="#fff" stroke-width="1.2"/>
<rect x="333.4" y="1573.8" width="16.3" height="16.3" fill="#9b8579" stroke="#fff" stroke-width="1.2"/>
<rect x="277.4" y="1573.3" width="16.3" height="16.3" fill="#9b8579" stroke="#fff" stroke-width="1.2"/>
<rect x="270.9" y="1577.8" width="16.3" height="16.3" fill="#9b8579" stroke="#fff" stroke-width="1.2"/>
<rect x="288.9" y="1585.3" width="16.3" height="16.3" fill="#9b8579" stroke="#fff" stroke-width="1.2"/>
<rect x="309.9" y="1585.3" width="16.3" height="16.3" fill="#9b8579" stroke="#fff" stroke-width="1.2"/>
</g>
<circle cx="198.1" cy="1334.3" r="9.5" fill="#f05a28" stroke="#fff" stroke-width="1"/>
<circle cx="219.1" cy="1334.3" r="9.5" fill="#f05a28" stroke="#fff" stroke-width="1"/>
<circle cx="209.3" cy="1349.8" r="9.5" fill="#f05a28" stroke="#fff" stroke-width="1"/>
<circle cx="251.2" cy="1366.9" r="9.5" fill="#f05a28" stroke="#fff" stroke-width="1"/>
<circle cx="227.2" cy="1387.9" r="9.5" fill="#f05a28" stroke="#fff" stroke-width="1"/>
<circle cx="269.9" cy="1413.1" r="9.5" fill="#f05a28" stroke="#fff" stroke-width="1"/>
<circle cx="269.9" cy="1440.5" r="9.5" fill="#f05a28" stroke="#fff" stroke-width="1"/>
<circle cx="419.1" cy="1395.6" r="9.5" fill="#f05a28" stroke="#fff" stroke-width="1"/>
<circle cx="277.0" cy="1281.5" r="9.5" fill="#1b75bc" stroke="#fff" stroke-width="1"/>
<circle cx="239.1" cy="1319.0" r="9.5" fill="#1b75bc" stroke="#fff" stroke-width="1"/>
<circle cx="273.4" cy="1322.5" r="9.5" fill="#1b75bc" stroke="#fff" stroke-width="1"/>
<circle cx="287.5" cy="1320.7" r="9.5" fill="#1b75bc" stroke="#fff" stroke-width="1"/>
<circle cx="289.2" cy="1333.5" r="9.5" fill="#1b75bc" stroke="#fff" stroke-width="1"/>
<circle cx="303.2" cy="1331.5" r="9.5" fill="#1b75bc" stroke="#fff" stroke-width="1"/>
<circle cx="307.4" cy="1338.7" r="9.5" fill="#1b75bc" stroke="#fff" stroke-width="1"/>
<circle cx="285.7" cy="1352.7" r="9.5" fill="#1b75bc" stroke="#fff" stroke-width="1"/>
<circle cx="289.2" cy="1374.1" r="9.5" fill="#1b75bc" stroke="#fff" stroke-width="1"/>
<circle cx="274.1" cy="1386.3" r="9.5" fill="#1b75bc" stroke="#fff" stroke-width="1"/>
<circle cx="291.0" cy="1417.2" r="9.5" fill="#1b75bc" stroke="#fff" stroke-width="1"/>
<circle cx="321.4" cy="1407.4" r="9.5" fill="#1b75bc" stroke="#fff" stroke-width="1"/>
<circle cx="332.8" cy="1388.5" r="9.5" fill="#1b75bc" stroke="#fff" stroke-width="1"/>
<circle cx="336.8" cy="1388.1" r="9.5" fill="#1b75bc" stroke="#fff" stroke-width="1"/>
<circle cx="347.3" cy="1402.1" r="9.5" fill="#1b75bc" stroke="#fff" stroke-width="1"/>
<circle cx="345.5" cy="1414.4" r="9.5" fill="#1b75bc" stroke="#fff" stroke-width="1"/>
<circle cx="386.9" cy="1406.3" r="9.5" fill="#1b75bc" stroke="#fff" stroke-width="1"/>
<circle cx="401.6" cy="1410.2" r="9.5" fill="#1b75bc" stroke="#fff" stroke-width="1"/>
<circle cx="415.6" cy="1426.6" r="9.5" fill="#1b75bc" stroke="#fff" stroke-width="1"/>
<circle cx="422.6" cy="1430.8" r="9.5" fill="#1b75bc" stroke="#fff" stroke-width="1"/>
<circle cx="384.1" cy="1435.4" r="9.5" fill="#1b75bc" stroke="#fff" stroke-width="1"/>
<circle cx="336.8" cy="1438.9" r="9.5" fill="#1b75bc" stroke="#fff" stroke-width="1"/>
<circle cx="352.6" cy="1444.2" r="9.5" fill="#1b75bc" stroke="#fff" stroke-width="1"/>
<circle cx="326.3" cy="1448.4" r="9.5" fill="#1b75bc" stroke="#fff" stroke-width="1"/>
<circle cx="308.0" cy="1452.5" r="9.5" fill="#1b75bc" stroke="#fff" stroke-width="1"/>
<circle cx="336.8" cy="1454.7" r="9.5" fill="#1b75bc" stroke="#fff" stroke-width="1"/>
<circle cx="372.9" cy="1447.0" r="9.5" fill="#1b75bc" stroke="#fff" stroke-width="1"/>
<circle cx="408.6" cy="1442.4" r="9.5" fill="#1b75bc" stroke="#fff" stroke-width="1"/>
<circle cx="422.6" cy="1457.1" r="9.5" fill="#1b75bc" stroke="#fff" stroke-width="1"/>
<circle cx="437.7" cy="1461.0" r="9.5" fill="#1b75bc" stroke="#fff" stroke-width="1"/>
<circle cx="382.3" cy="1454.7" r="9.5" fill="#1b75bc" stroke="#fff" stroke-width="1"/>
<circle cx="352.6" cy="1459.9" r="9.5" fill="#1b75bc" stroke="#fff" stroke-width="1"/>
<circle cx="349.0" cy="1468.7" r="9.5" fill="#1b75bc" stroke="#fff" stroke-width="1"/>
<circle cx="356.0" cy="1468.7" r="9.5" fill="#1b75bc" stroke="#fff" stroke-width="1"/>
<circle cx="352.6" cy="1477.5" r="9.5" fill="#1b75bc" stroke="#fff" stroke-width="1"/>
<circle cx="384.1" cy="1475.7" r="9.5" fill="#1b75bc" stroke="#fff" stroke-width="1"/>
<circle cx="426.8" cy="1475.7" r="9.5" fill="#1b75bc" stroke="#fff" stroke-width="1"/>
<circle cx="392.8" cy="1459.9" r="9.5" fill="#1b75bc" stroke="#fff" stroke-width="1"/>
<circle cx="339.0" cy="1438.0" r="9.5" fill="#1b75bc" stroke="#fff" stroke-width="1"/>
<circle cx="353.6" cy="1481.8" r="9.5" fill="#1b75bc" stroke="#fff" stroke-width="1"/>
<circle cx="347.7" cy="1495.8" r="9.5" fill="#1b75bc" stroke="#fff" stroke-width="1"/>
<circle cx="382.8" cy="1476.5" r="9.5" fill="#1b75bc" stroke="#fff" stroke-width="1"/>
<circle cx="386.6" cy="1483.3" r="9.5" fill="#1b75bc" stroke="#fff" stroke-width="1"/>
<circle cx="390.0" cy="1489.1" r="9.5" fill="#1b75bc" stroke="#fff" stroke-width="1"/>
<circle cx="422.2" cy="1499.3" r="9.5" fill="#1b75bc" stroke="#fff" stroke-width="1"/>
<circle cx="377.0" cy="1508.1" r="9.5" fill="#1b75bc" stroke="#fff" stroke-width="1"/>
<circle cx="427.2" cy="1478.0" r="9.5" fill="#1b75bc" stroke="#fff" stroke-width="1"/>
<circle cx="294.5" cy="1372.3" r="9.5" fill="#f05a28" stroke="#fff" stroke-width="1"/>
<circle cx="287.5" cy="1394.4" r="9.5" fill="#f05a28" stroke="#fff" stroke-width="1"/>
<circle cx="326.0" cy="1427.3" r="9.5" fill="#f05a28" stroke="#fff" stroke-width="1"/>
<circle cx="396.4" cy="1457.1" r="9.5" fill="#f05a28" stroke="#fff" stroke-width="1"/>
<circle cx="363.8" cy="1491.5" r="9.5" fill="#f05a28" stroke="#fff" stroke-width="1"/>
<circle cx="370.2" cy="1489.1" r="9.5" fill="#f05a28" stroke="#fff" stroke-width="1"/>
<circle cx="393.0" cy="1497.9" r="9.5" fill="#f05a28" stroke="#fff" stroke-width="1"/>
<circle cx="404.7" cy="1505.2" r="9.5" fill="#f05a28" stroke="#fff" stroke-width="1"/>
<circle cx="420.7" cy="1509.5" r="9.5" fill="#f05a28" stroke="#fff" stroke-width="1"/>
<circle cx="431.0" cy="1512.5" r="9.5" fill="#f05a28" stroke="#fff" stroke-width="1"/>
<circle cx="433.9" cy="1513.9" r="9.5" fill="#f05a28" stroke="#fff" stroke-width="1"/>
<circle cx="450.0" cy="1508.1" r="9.5" fill="#f05a28" stroke="#fff" stroke-width="1"/>
<circle cx="355.0" cy="1509.5" r="9.5" fill="#f05a28" stroke="#fff" stroke-width="1"/>
<circle cx="375.5" cy="1518.3" r="9.5" fill="#f05a28" stroke="#fff" stroke-width="1"/>
<circle cx="379.9" cy="1515.4" r="9.5" fill="#f05a28" stroke="#fff" stroke-width="1"/>
<circle cx="432.4" cy="1527.9" r="9.5" fill="#f05a28" stroke="#fff" stroke-width="1"/>
<circle cx="264.5" cy="1523.5" r="9.5" fill="#f05a28" stroke="#fff" stroke-width="1"/>
<circle cx="286.6" cy="1503.7" r="9.5" fill="#f05a28" stroke="#fff" stroke-width="1"/>
<circle cx="325.8" cy="1427.8" r="9.5" fill="#f05a28" stroke="#fff" stroke-width="1"/>
<rect x="454.3" y="1479.5" width="116" height="71" rx="23" fill="#f2a54e" stroke="#231f20" stroke-width="1"/>
<line x1="234.9" y1="1304" x2="453" y2="1497.5" stroke="#231f20" stroke-width="3.1" stroke-dasharray="10.5 7.5"/>
<line x1="184.1" y1="1306.3" x2="160.9" y2="1463.3" stroke="#231f20" stroke-width="4.4"/><path d="M158.0 1483.2 L150.2 1453.7 L160.9 1463.3 L174.0 1457.3Z" fill="#231f20"/>
<line x1="465.6" y1="1545.1" x2="320.6" y2="1584.4" stroke="#231f20" stroke-width="4.8"/><path d="M299.8 1590.0 L325.6 1570.6 L320.6 1584.4 L331.9 1593.7Z" fill="#231f20"/>
<text x="188.5" y="1246" font-size="23" fill="#fff" text-anchor="middle" textLength="87" lengthAdjust="spacingAndGlyphs" >Igneous</text>
<text x="188.5" y="1271.3" font-size="23" fill="#fff" text-anchor="middle" textLength="56" lengthAdjust="spacingAndGlyphs" >rocks</text>
<text x="515.5" y="1523.4" font-size="23" fill="#fff" text-anchor="middle" textLength="69" lengthAdjust="spacingAndGlyphs" >Shales</text>
<text transform="translate(133.3,1490.5) rotate(-79.8)" font-size="17.5" font-style="italic" fill="#231f20" textLength="174" lengthAdjust="spacingAndGlyphs">Chemical weathering</text>
<text transform="translate(350.3,1600.8) rotate(-14.4)" font-size="17.8" fill="#231f20" textLength="177" lengthAdjust="spacingAndGlyphs">Chemical weathering</text>
<text x="365.6" y="1167.1" font-size="18.9" fill="#1b75bc">R<tspan font-size="11" dy="-6">2</tspan><tspan dy="6"> = 0.65, </tspan><tspan font-style="italic">p</tspan> &lt; 0.001</text>
<text x="365.6" y="1188.2" font-size="18.9" fill="#f05a28">R<tspan font-size="11" dy="-6">2</tspan><tspan dy="6"> = 0.51, </tspan><tspan font-style="italic">p</tspan> &lt; 0.001</text>
<rect x="548" y="1141.9" width="38" height="37.5" fill="#939598"/>
<rect x="88.5" y="1141.9" width="497.5" height="459.79999999999995" fill="none" stroke="#231f20" stroke-width="2.3"/>
<line x1="88.5" x2="96.3" y1="1486.8" y2="1486.8" stroke="#231f20" stroke-width="2"/>
<line x1="88.5" x2="96.3" y1="1371.8" y2="1371.8" stroke="#231f20" stroke-width="2"/>
<line x1="88.5" x2="96.3" y1="1256.9" y2="1256.9" stroke="#231f20" stroke-width="2"/>
<text x="71.4" y="1608.6" font-size="25.2" fill="#231f20" text-anchor="end" >0</text>
<text x="78" y="1494.0" font-size="25.2" fill="#231f20" text-anchor="end" >0.1</text>
<text x="78" y="1379.6" font-size="25.2" fill="#231f20" text-anchor="end" >0.2</text>
<text x="78" y="1263.7" font-size="25.2" fill="#231f20" text-anchor="end" >0.3</text>
<text x="78" y="1151.7" font-size="25.2" fill="#231f20" text-anchor="end" >0.4</text>
<line x1="254.2" x2="254.2" y1="1601.7" y2="1593.9" stroke="#231f20" stroke-width="2"/>
<line x1="420.2" x2="420.2" y1="1601.7" y2="1593.9" stroke="#231f20" stroke-width="2"/>
<text x="88.5" y="1632.6" font-size="25.2" fill="#231f20" text-anchor="middle" >0</text>
<text x="254.4" y="1632.6" font-size="25.2" fill="#231f20" text-anchor="middle" >0.4</text>
<text x="420.4" y="1632.6" font-size="25.2" fill="#231f20" text-anchor="middle" >0.8</text>
<text x="585.0" y="1632.6" font-size="25.2" fill="#231f20" text-anchor="middle" >1.2</text>
<text x="566.2" y="1170.8" font-size="36.5" fill="#fff" text-anchor="middle" >c</text>
<text x="149.5" y="1675.2" font-size="32.3" fill="#231f20" text-anchor="start" textLength="198" lengthAdjust="spacingAndGlyphs" >Li/Al (x 1000)</text>
<text x="352" y="1675.2" font-size="32.3" fill="#231f20" text-anchor="start" textLength="201" lengthAdjust="spacingAndGlyphs" >(weight ratio)</text>
<text transform="translate(24.9,1515.4) rotate(-90)" font-size="32.3" fill="#231f20" textLength="288" lengthAdjust="spacingAndGlyphs">Na/Al (weight ratio)</text>
</g>
</svg>
</body></html>
